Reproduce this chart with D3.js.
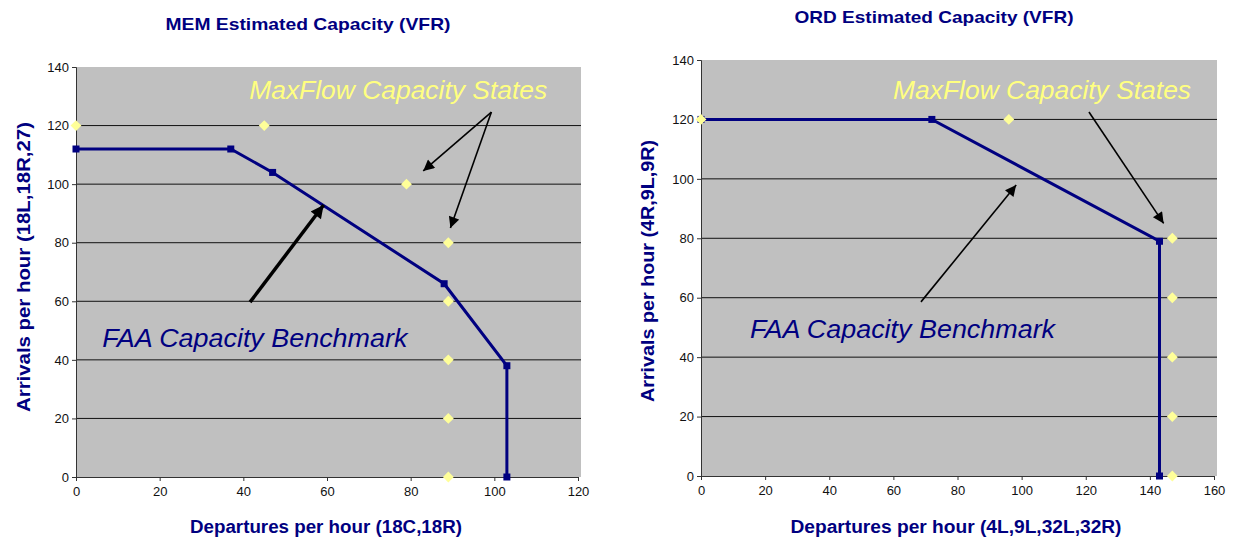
<!DOCTYPE html>
<html>
<head>
<meta charset="utf-8">
<script src="https://cdn.jsdelivr.net/npm/d3@7"></script>
<style>
  body { margin: 0; background: #fff; }
  svg { display: block; font-family: "Liberation Sans", Arial, sans-serif; }
</style>
</head>
<body>
<svg id="chart"></svg>
<script>
// MEM data
const memFaaDep = [0, 37, 47, 88, 103, 103];
const memFaaArr = [112, 112, 104, 66, 38, 0];
const memMaxDep = [0, 45, 79, 89, 89, 89, 89, 89];
const memMaxArr = [120, 120, 100, 80, 60, 40, 20, 0];

// ORD data
const ordFaaDep = [0, 72, 143, 143];
const ordFaaArr = [120, 120, 79, 0];
const ordMaxDep = [0, 96, 147, 147, 147, 147, 147];
const ordMaxArr = [120, 120, 80, 60, 40, 20, 0];

const yTicks = [0, 20, 40, 60, 80, 100, 120, 140];
const memXTicks = [0, 20, 40, 60, 80, 100, 120];
const ordXTicks = [0, 20, 40, 60, 80, 100, 120, 140, 160];

const width = 1236, height = 542;
const navy = "#000080";

const svg = d3.select("#chart")
    .attr("width", width)
    .attr("height", height);

const defs = svg.append("defs");
defs.append("marker")
    .attr("id", "head")
    .attr("viewBox", "0 0 10 10")
    .attr("refX", 10).attr("refY", 5)
    .attr("markerWidth", 13).attr("markerHeight", 11)
    .attr("markerUnits", "userSpaceOnUse")
    .attr("orient", "auto")
    .append("path").attr("d", "M0,0 L10,5 L0,10 Z").attr("fill", "#000");
defs.append("marker")
    .attr("id", "headBig")
    .attr("viewBox", "0 0 10 10")
    .attr("refX", 10).attr("refY", 5)
    .attr("markerWidth", 15).attr("markerHeight", 13)
    .attr("markerUnits", "userSpaceOnUse")
    .attr("orient", "auto")
    .append("path").attr("d", "M0,0 L10,5 L0,10 Z").attr("fill", "#000");

function drawPanel(cfg) {
    const x = d3.scaleLinear().domain([0, cfg.xMax]).range([cfg.left, cfg.right]);
    const y = d3.scaleLinear().domain([0, 140]).range([cfg.bottom, cfg.top]);
    const g = svg.append("g");

    // gray plot area
    g.append("rect")
        .attr("x", cfg.left).attr("y", cfg.top)
        .attr("width", cfg.right - cfg.left + 3)
        .attr("height", cfg.bottom - cfg.top)
        .attr("fill", "#c0c0c0");

    // gridlines
    g.selectAll(".grid")
        .data(yTicks.filter(d => d > 0 && d < 140))
        .enter().append("line")
        .attr("x1", cfg.left).attr("x2", cfg.right + 3)
        .attr("y1", d => y(d)).attr("y2", d => y(d))
        .attr("stroke", "#111").attr("stroke-width", 1);

    // axes
    const yAxis = d3.axisLeft(y).tickValues(yTicks).tickSize(4).tickPadding(3);
    const gy = g.append("g").attr("transform", `translate(${cfg.left},0)`).call(yAxis);
    const xAxis = d3.axisBottom(x).tickValues(cfg.xTicks).tickSize(4).tickPadding(6);
    const gx = g.append("g").attr("transform", `translate(0,${cfg.bottom})`).call(xAxis);
    [gx, gy].forEach(a => {
        a.select(".domain").attr("stroke", "#333");
        a.selectAll(".tick line").attr("stroke", "#333");
        a.selectAll("text").attr("font-size", 13).attr("fill", "#111")
            .attr("font-family", "'Liberation Sans Narrow', 'Liberation Sans', Arial, sans-serif");
    });

    // FAA line
    const faa = cfg.faaDep.map((d, i) => [d, cfg.faaArr[i]]);
    g.append("path")
        .datum(faa)
        .attr("d", d3.line().x(d => x(d[0])).y(d => y(d[1])))
        .attr("fill", "none").attr("stroke", navy).attr("stroke-width", 3);
    g.selectAll(".sq")
        .data(faa)
        .enter().append("rect")
        .attr("x", d => x(d[0]) - 3.5).attr("y", d => y(d[1]) - 3.5)
        .attr("width", 7).attr("height", 7)
        .attr("fill", navy);

    // MaxFlow diamonds
    const mf = cfg.maxDep.map((d, i) => [d, cfg.maxArr[i]]);
    g.selectAll(".dia")
        .data(mf)
        .enter().append("path")
        .attr("d", d3.symbol().type(d3.symbolDiamond2).size(75))
        .attr("transform", d => `translate(${x(d[0])},${y(d[1])})`)
        .attr("fill", "#ffff99");

    // annotations
    g.append("text")
        .attr("x", x(cfg.mfText[0])).attr("y", y(cfg.mfText[1]))
        .attr("font-size", 26).attr("font-style", "italic")
        .attr("fill", "#ffff80")
        .attr("textLength", 298).attr("lengthAdjust", "spacingAndGlyphs")
        .text("MaxFlow Capacity States");
    g.append("text")
        .attr("x", x(cfg.faaText[0])).attr("y", y(cfg.faaText[1]))
        .attr("font-size", 26).attr("font-style", "italic")
        .attr("fill", navy)
        .attr("textLength", 305).attr("lengthAdjust", "spacingAndGlyphs")
        .text("FAA Capacity Benchmark");

    g.selectAll(".arrow")
        .data(cfg.arrows)
        .enter().append("line")
        .attr("x1", d => x(d.from[0])).attr("y1", d => y(d.from[1]))
        .attr("x2", d => x(d.to[0])).attr("y2", d => y(d.to[1]))
        .attr("stroke", "#000")
        .attr("stroke-width", d => d.thick ? 3.5 : 1.6)
        .attr("marker-end", d => d.thick ? "url(#headBig)" : "url(#head)");

    // titles
    g.append("text")
        .attr("x", cfg.titleX).attr("y", cfg.titleY)
        .attr("text-anchor", "middle")
        .attr("font-size", 17).attr("font-weight", "bold")
        .attr("fill", navy)
        .attr("textLength", cfg.titleLen).attr("lengthAdjust", "spacingAndGlyphs")
        .text(cfg.title);
    g.append("text")
        .attr("x", cfg.xLabelX).attr("y", 533)
        .attr("text-anchor", "middle")
        .attr("font-size", 18).attr("font-weight", "bold")
        .attr("fill", navy)
        .attr("textLength", cfg.xLabelLen).attr("lengthAdjust", "spacingAndGlyphs")
        .text(cfg.xLabel);
    g.append("text")
        .attr("transform", `translate(${cfg.yLabelX},${cfg.yLabelY}) rotate(-90)`)
        .attr("text-anchor", "middle")
        .attr("font-size", 18).attr("font-weight", "bold")
        .attr("fill", navy)
        .attr("textLength", cfg.yLabelLen).attr("lengthAdjust", "spacingAndGlyphs")
        .text(cfg.yLabel);
}

drawPanel({
    left: 76, right: 578, top: 67, bottom: 477, xMax: 120,
    xTicks: memXTicks,
    faaDep: memFaaDep, faaArr: memFaaArr,
    maxDep: memMaxDep, maxArr: memMaxArr,
    mfText: [41.4, 129], faaText: [6.3, 44.5],
    arrows: [
        {from: [99.3, 124.6], to: [83, 104.5]},
        {from: [99.3, 124.6], to: [89.5, 85]},
        {from: [41.6, 59.7], to: [59.2, 92.9], thick: true}
    ],
    title: "MEM Estimated Capacity (VFR)", titleX: 308, titleY: 30, titleLen: 285,
    xLabel: "Departures per hour (18C,18R)", xLabelX: 326, xLabelLen: 272,
    yLabel: "Arrivals per hour (18L,18R,27)", yLabelX: 30, yLabelY: 267, yLabelLen: 290
});

drawPanel({
    left: 701, right: 1214, top: 60, bottom: 476, xMax: 160,
    xTicks: ordXTicks,
    faaDep: ordFaaDep, faaArr: ordFaaArr,
    maxDep: ordMaxDep, maxArr: ordMaxArr,
    mfText: [59.9, 127], faaText: [15.3, 46.5],
    arrows: [
        {from: [121, 122.5], to: [144.3, 85]},
        {from: [68.6, 58.6], to: [98.3, 97.9]}
    ],
    title: "ORD Estimated Capacity (VFR)", titleX: 934, titleY: 23, titleLen: 279,
    xLabel: "Departures per hour (4L,9L,32L,32R)", xLabelX: 956, xLabelLen: 331,
    yLabel: "Arrivals per hour (4R,9L,9R)", yLabelX: 654, yLabelY: 271, yLabelLen: 262
});
</script>
</body>
</html>
